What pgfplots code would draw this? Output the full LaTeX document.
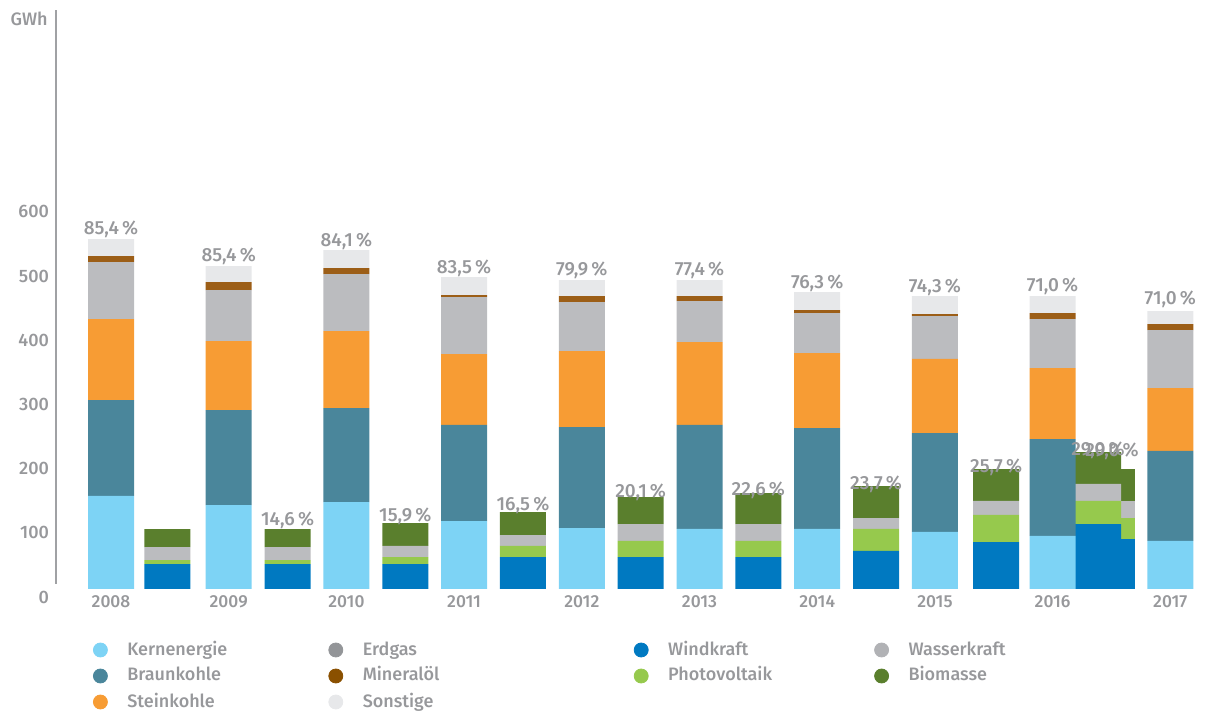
\documentclass[border=0pt]{standalone}
\usepackage{pgfplots}
\pgfplotsset{compat=1.18}
\usepackage{fontspec}
\IfFontExistsTF{Fira Sans Medium}{\setmainfont{Fira Sans Medium}}{%
  \IfFontExistsTF{FiraSans-Medium.otf}{\setmainfont{FiraSans-Medium.otf}}{\setmainfont{Fira Sans}}}
\definecolor{kern}{HTML}{7DD3F5}
\definecolor{braun}{HTML}{4A869B}
\definecolor{stein}{HTML}{F79C34}
\definecolor{erdgas}{HTML}{BBBCBF}
\definecolor{erdgasleg}{HTML}{939598}
\definecolor{mineral}{HTML}{9C5E17}
\definecolor{minleg}{HTML}{8A5000}
\definecolor{sonst}{HTML}{E7E8EA}
\definecolor{wind}{HTML}{0079C1}
\definecolor{pv}{HTML}{96C94D}
\definecolor{wasser}{HTML}{BBBCBF}
\definecolor{wasserleg}{HTML}{B1B2B5}
\definecolor{bio}{HTML}{5A7F2D}
\definecolor{txtgray}{HTML}{97989B}
\definecolor{axisgray}{HTML}{A0A1A4}
\pgfplotsset{
  base/.style={scale only axis, width=572pt, height=289.5pt,
    xmin=-0.4673, xmax=9.2523, ymin=0, ymax=902,
    at={(28pt,61pt)}, anchor=south west},
  pct/.style={every node near coord/.append style={font=\fontsize{9.5}{11}\selectfont, text=txtgray, anchor=south, inner sep=0pt, yshift=4.5pt}},
  leg/.style={legend image code/.code={\fill[#1] (0pt,0pt) circle (3.5pt); \path[draw=none,fill=none] (-3.5pt,0pt) rectangle (13.5pt,0.1pt);}},
}
\begin{document}
\begin{tikzpicture}
\useasboundingbox (0,0) rectangle (605pt,355.5pt);
% background: 2017 renewable bar (partly hidden behind 2016)
\begin{axis}[base, hide axis, ybar stacked, bar width=23pt]
\addplot[fill=wind, draw=none] coordinates {(8.505,77.9)};
\addplot[fill=pv, draw=none] coordinates {(8.505,32.7)};
\addplot[fill=wasser, draw=none] coordinates {(8.505,26.5)};
\addplot[fill=bio, draw=none] coordinates {(8.505,49.8)};
\end{axis}
% main axis
\begin{axis}[base, ybar stacked, bar width=23pt,
  axis x line*=bottom, axis y line*=left,
  x axis line style={draw=none},
  y axis line style={draw=axisgray, line width=0.75pt, shorten <=2.5pt},
  major tick length=0pt,
  /pgf/number format/assume math mode=true,
  ytick={0,100,200,300,400,500,600},
  yticklabel style={font=\fontsize{9}{11}\selectfont, text=txtgray, yshift=-4pt},
  xtick={0,1,2,3,4,5,6,7,8,9},
  xticklabels={2008,2009,2010,2011,2012,2013,2014,2015,2016,2017},
  xticklabel style={font=\fontsize{8.7}{11}\selectfont, text=txtgray},
  legend columns=4,
  legend cell align=left,
  legend style={at={(0.032343,-0.08981)}, anchor=north west, draw=none, fill=none,
    inner sep=0pt, outer sep=0pt, column sep=0pt, row sep=4pt,
    font=\fontsize{9}{11}\selectfont, text=txtgray,
    nodes={inner sep=0pt, text height=7pt, text depth=2pt}},
  clip=false]
\addlegendimage{leg=kern}\addlegendentry{\makebox[100.5pt][l]{Kernenergie}}
\addlegendimage{leg=erdgasleg}\addlegendentry{\makebox[135.5pt][l]{Erdgas}}
\addlegendimage{leg=wind}\addlegendentry{\makebox[103pt][l]{Windkraft}}
\addlegendimage{leg=wasserleg}\addlegendentry{Wasserkraft}
\addlegendimage{leg=braun}\addlegendentry{\makebox[100.5pt][l]{Braunkohle}}
\addlegendimage{leg=minleg}\addlegendentry{\makebox[135.5pt][l]{Mineralöl}}
\addlegendimage{leg=pv}\addlegendentry{\makebox[103pt][l]{Photovoltaik}}
\addlegendimage{leg=bio}\addlegendentry{Biomasse}
\addlegendimage{leg=stein}\addlegendentry{\makebox[100.5pt][l]{Steinkohle}}
\addlegendimage{leg=sonst}\addlegendentry{\makebox[135.5pt][l]{Sonstige}}
\addlegendimage{empty legend}\addlegendentry{}
\addlegendimage{empty legend}\addlegendentry{}
% Kernenergie
\addplot[forget plot, fill=kern, draw=none] coordinates {(0,144.9)(0.48,0)(1,130.8)(1.5,0)(2,135.5)(2.5,0)(3,105.9)(3.5,0)(4,95.0)(4.5,0)(5,93.5)(5.5,0)(6,93.5)(6.5,0)(7,88.8)(7.52,0)(8,82.6)(8.386,0)(9,74.8)};
% Braunkohle
\addplot[forget plot, fill=braun, draw=none] coordinates {(0,149.5)(0.48,0)(1,148.0)(1.5,0)(2,146.4)(2.5,0)(3,149.6)(3.5,0)(4,157.3)(4.5,0)(5,162.0)(5.5,0)(6,157.3)(6.5,0)(7,154.2)(7.52,0)(8,151.0)(8.386,0)(9,140.2)};
% Steinkohle
\addplot[forget plot, fill=stein, draw=none] coordinates {(0,126.2)(0.48,0)(1,107.5)(1.5,0)(2,120.0)(2.5,0)(3,110.5)(3.5,0)(4,118.4)(4.5,0)(5,129.2)(5.5,0)(6,116.8)(6.5,0)(7,115.3)(7.52,0)(8,110.6)(8.386,0)(9,98.1)};
% Erdgas
\addplot[forget plot, fill=erdgas, draw=none] coordinates {(0,88.7)(0.48,0)(1,79.4)(1.5,0)(2,88.8)(2.5,0)(3,88.8)(3.5,0)(4,76.3)(4.5,0)(5,63.9)(5.5,0)(6,62.3)(6.5,0)(7,66.9)(7.52,0)(8,76.4)(8.386,0)(9,90.3)};
% Mineraloel
\addplot[forget plot, fill=mineral, draw=none] coordinates {(0,9.4)(0.48,0)(1,12.5)(1.5,0)(2,9.3)(2.5,0)(3,3.1)(3.5,0)(4,9.4)(4.5,0)(5,7.8)(5.5,0)(6,4.7)(6.5,0)(7,3.1)(7.52,0)(8,9.3)(8.386,0)(9,9.4)};
% Sonstige
\addplot[forget plot, fill=sonst, draw=none, pct, nodes near coords, point meta=explicit symbolic] coordinates {
(0,26.5)[85,4\,\%] (0.48,0)[] (1,24.9)[85,4\,\%] (1.5,0)[] (2,28.0)[84,1\,\%] (2.5,0)[]
(3,28.1)[83,5\,\%] (3.5,0)[] (4,24.9)[79,9\,\%] (4.5,0)[] (5,24.9)[77,4\,\%] (5.5,0)[]
(6,28.0)[76,3\,\%] (6.5,0)[] (7,28.1)[74,3\,\%] (7.52,0)[] (8,26.5)[71,0\,\%] (8.386,0)[] (9,20.2)[71,0\,\%]};
% Windkraft
\addplot[forget plot, fill=wind, draw=none] coordinates {(0,0)(0.48,38.9)(1,0)(1.5,38.9)(2,0)(2.5,38.9)(3,0)(3.5,49.8)(4,0)(4.5,49.8)(5,0)(5.5,49.8)(6,0)(6.5,59.2)(7,0)(7.52,73.2)(8,0)(8.386,101.2)(9,0)};
% Photovoltaik
\addplot[forget plot, fill=pv, draw=none] coordinates {(0,0)(0.48,6.2)(1,0)(1.5,6.2)(2,0)(2.5,10.9)(3,0)(3.5,17.2)(4,0)(4.5,25.0)(5,0)(5.5,25.0)(6,0)(6.5,34.3)(7,0)(7.52,42.1)(8,0)(8.386,35.9)(9,0)};
% Wasserkraft
\addplot[forget plot, fill=wasser, draw=none] coordinates {(0,0)(0.48,20.2)(1,0)(1.5,20.2)(2,0)(2.5,17.2)(3,0)(3.5,17.1)(4,0)(4.5,26.4)(5,0)(5.5,26.4)(6,0)(6.5,17.1)(7,0)(7.52,21.8)(8,0)(8.386,26.5)(9,0)};
% Biomasse
\addplot[forget plot, fill=bio, draw=none, pct, nodes near coords, point meta=explicit symbolic] coordinates {
(0,0)[] (0.48,28.0)[] (1,0)[] (1.5,28.0)[14,6\,\%] (2,0)[] (2.5,35.8)[15,9\,\%]
(3,0)[] (3.5,35.8)[16,5\,\%] (4,0)[] (4.5,42.1)[20,1\,\%] (5,0)[] (5.5,48.3)[22,6\,\%]
(6,0)[] (6.5,49.8)[23,7\,\%] (7,0)[] (7.52,49.8)[25,7\,\%] (8,0)[] (8.386,49.8)[29,0\,\%] (9,0)[]};
\node[anchor=east, font=\fontsize{9}{11}\selectfont, text=txtgray, inner sep=0pt] at ([xshift=-4pt,yshift=-4.5pt]rel axis cs:0,1) {GWh};
\end{axis}
% label of the 2017 renewable bar on top
\begin{axis}[base, hide axis]
\addplot[draw=none, mark=none, nodes near coords, point meta=explicit symbolic,
  every node near coord/.append style={font=\fontsize{9.5}{11}\selectfont, text=txtgray, anchor=south, inner sep=0pt, yshift=4.5pt}]
  coordinates {(8.505,186.9)[29,0\,\%]};
\end{axis}
\end{tikzpicture}
\end{document}
